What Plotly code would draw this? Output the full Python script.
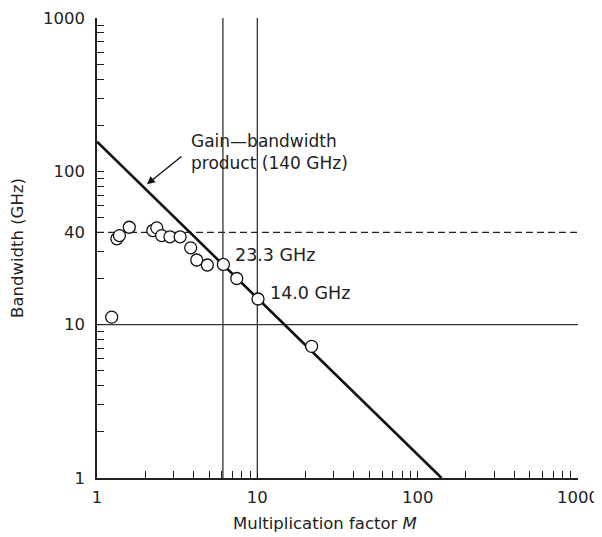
import numpy as np
import plotly.graph_objects as go

# Measured data (multiplication factor M, bandwidth GHz)
meas_M = [1.235, 1.33, 1.38, 1.59, 2.23, 2.36, 2.53, 2.85, 3.30, 3.84, 4.19, 4.88, 6.14, 7.44, 10.1, 21.8]
meas_B = [11.2, 36.3, 38.1, 43.2, 41.1, 42.8, 38.1, 37.4, 37.4, 31.7, 26.4, 24.5, 24.7, 20.0, 14.7, 7.22]

# Gain-bandwidth product line (140 GHz)
gbw_M = [1, 141]
gbw_B = [156, 1]

# Reference lines
limit_B = 40        # dashed
floor_B = 10        # solid horizontal
vert_M = [6.1, 10]  # vertical lines
x_span = [1, 1000]
y_span = [1, 1000]

# Ticks
decades = [1, 10, 100]
tick_vals = [d * k for d in decades for k in range(1, 10)] + [1000]
x_labels = {1: "1", 10: "10", 100: "100", 1000: "1000"}
y_labels = {1: "1", 10: "10", 40: "40", 100: "100", 1000: "1000"}

FONT = "DejaVu Sans"
TXT = "#222222"

fig = go.Figure()

fig.add_trace(go.Scatter(x=x_span, y=[limit_B, limit_B], mode="lines",
                         line=dict(color="#222", width=1.2, dash="7px,4px"), hoverinfo="skip"))
fig.add_trace(go.Scatter(x=x_span, y=[floor_B, floor_B], mode="lines",
                         line=dict(color="#333", width=1.3), hoverinfo="skip"))
for m in vert_M:
    fig.add_trace(go.Scatter(x=[m, m], y=y_span, mode="lines",
                             line=dict(color="#333", width=1.3), hoverinfo="skip"))
fig.add_trace(go.Scatter(x=gbw_M, y=gbw_B, mode="lines",
                         line=dict(color="#111", width=2.6), hoverinfo="skip"))
fig.add_trace(go.Scatter(x=meas_M, y=meas_B, mode="markers",
                         marker=dict(symbol="circle", size=12, color="white",
                                     line=dict(color="#111", width=1.3)),
                         cliponaxis=False))

axis_common = dict(
    type="log", range=[0, 3], showgrid=False, zeroline=False, automargin=False,
    showline=True, linecolor="#222", linewidth=1.5, mirror=False,
    ticks="inside", ticklen=7, tickwidth=1, tickcolor="#222",
    tickvals=tick_vals, ticklabeloverflow="allow",
    tickfont=dict(family=FONT, size=16.5, color=TXT),
)

fig.update_xaxes(**axis_common,
                 ticktext=[x_labels.get(v, "") for v in tick_vals],
                 ticklabelstandoff=3)
fig.update_yaxes(**axis_common,
                 ticktext=[y_labels.get(v, "") for v in tick_vals],
                 ticklabelstandoff=7,
                 title=dict(text="Bandwidth (GHz)",
                            font=dict(family=FONT, size=16.5, color=TXT), standoff=22))

annots = [
    dict(x=np.log10(3.75), y=np.log10(133), text="Gain\u2014bandwidth<br>product (140 GHz)",
         xanchor="left", yanchor="middle", align="left", showarrow=False,
         font=dict(family=FONT, size=17, color=TXT)),
    dict(x=np.log10(7.0), y=np.log10(28.6), text="23.3 GHz",
         xanchor="left", yanchor="middle", showarrow=False,
         font=dict(family=FONT, size=17.5, color=TXT)),
    dict(x=np.log10(11.6), y=np.log10(16.2), text="14.0 GHz",
         xanchor="left", yanchor="middle", showarrow=False,
         font=dict(family=FONT, size=17.5, color=TXT)),
    dict(x=np.log10(2.05), y=np.log10(82.4), text="", showarrow=True,
         arrowhead=2, arrowsize=1.2, arrowwidth=1.3, arrowcolor="#111",
         ax=36, ay=-29, axref="pixel", ayref="pixel"),
]
for a in annots:
    fig.add_annotation(xref="x", yref="y", **a)

# x-axis title (slightly left of centre, as in the original)
fig.add_annotation(xref="paper", yref="paper", x=0.473, y=0, yshift=-45,
                   xanchor="center", yanchor="middle", showarrow=False,
                   text="Multiplication factor <i>M</i>",
                   font=dict(family=FONT, size=16.5, color=TXT))

fig.update_layout(
    width=594, height=529,
    margin=dict(l=89, r=24, t=10, b=59),
    paper_bgcolor="white", plot_bgcolor="white",
    showlegend=False,
)

fig.write_html("out.html")
